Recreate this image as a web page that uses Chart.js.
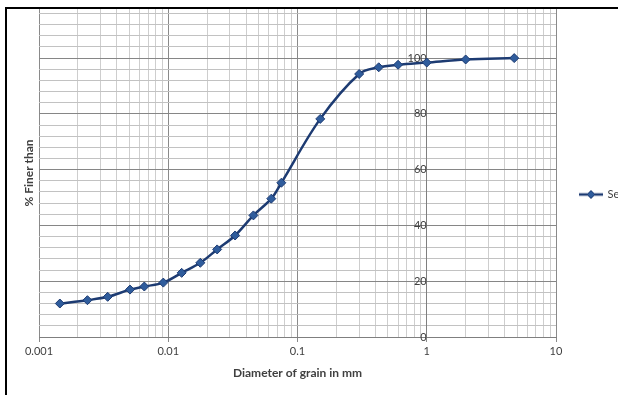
<!DOCTYPE html>
<html>
<head>
<meta charset="utf-8">
<script src="https://cdn.jsdelivr.net/npm/chart.js@4"></script>
<style>
  html, body { margin: 0; padding: 0; background: #fff; }
  #wrap { width: 618px; height: 395px; }
</style>
</head>
<body>
<div id="wrap"><canvas id="grading" width="618" height="395"></canvas></div>
<script>
// grain size distribution (sieve + hydrometer)
const diameters = [0.00145, 0.00237, 0.0034, 0.00506, 0.00653, 0.00916, 0.0127, 0.0177, 0.0239, 0.0329,
                   0.0456, 0.0627, 0.075, 0.15, 0.3, 0.425, 0.6, 1.0, 2.0, 4.75];
const percentFiner = [12.0, 13.2, 14.4, 17.0, 18.1, 19.5, 23.0, 26.6, 31.4, 36.4,
                      43.6, 49.6, 55.3, 78.2, 94.3, 96.7, 97.6, 98.4, 99.5, 100.0];
const xTickValues = [0.001, 0.01, 0.1, 1, 10];
const xTickLabels = ['0.001', '0.01', '0.1', '1', '10'];
const yTickValues = [0, 20, 40, 60, 80, 100];
const seriesName = 'Series1';

// grid positions: 1..9 in every decade, every 4 % up the side
const xGrid = [];
for (let i = 0; i < xTickValues.length - 1; i++) {
  for (let k = 1; k <= 9; k++) xGrid.push(Number((xTickValues[i] * k).toPrecision(6)));
}
xGrid.push(xTickValues[xTickValues.length - 1]);
const yGrid = [];
for (let v = 0; v <= 116; v += 4) yGrid.push(v);

const isDecade = v => Math.abs(Math.log10(v) - Math.round(Math.log10(v))) < 1e-6;
const xLabel = v => {
  const i = xTickValues.findIndex(t => Math.abs(t - v) / t < 1e-6);
  return i < 0 ? '' : xTickLabels[i];
};

const NAVY = '#1d3b72';
const MARK = '#2f5c9c';

// legend sample: short line with a diamond on it
const legendMark = document.createElement('canvas');
legendMark.width = 24; legendMark.height = 10;
(function () {
  const c = legendMark.getContext('2d');
  c.strokeStyle = NAVY; c.lineWidth = 2.5;
  c.beginPath(); c.moveTo(0, 5); c.lineTo(24, 5); c.stroke();
  c.fillStyle = MARK; c.strokeStyle = NAVY; c.lineWidth = 1;
  c.beginPath(); c.moveTo(12, 1); c.lineTo(16, 5); c.lineTo(12, 9); c.lineTo(8, 5); c.closePath();
  c.fill(); c.stroke();
})();

// black frame on the top and left edges
const frame = {
  id: 'frame',
  afterDraw(chart) {
    const c = chart.ctx;
    c.save();
    c.fillStyle = '#000';
    c.fillRect(5, 7, 2, 388);
    c.fillRect(5, 7, 613, 2);
    c.restore();
  }
};

Chart.defaults.font.family = 'Lato';
Chart.defaults.color = '#404040';

new Chart(document.getElementById('grading'), {
  type: 'line',
  data: {
    datasets: [{
      label: seriesName,
      data: diameters.map((d, i) => ({ x: d, y: percentFiner[i] })),
      borderColor: NAVY,
      borderWidth: 2.5,
      tension: 0.35,
      pointStyle: 'rectRot',
      pointRadius: 4.5,
      pointBackgroundColor: MARK,
      pointBorderColor: NAVY,
      pointBorderWidth: 1
    }]
  },
  options: {
    responsive: false,
    animation: false,
    layout: { padding: { top: 9, left: 0, right: 0, bottom: 0 } },
    plugins: {
      tooltip: { enabled: false },
      legend: {
        position: 'right',
        fullSize: false,
        maxWidth: 62,
        title: { display: true, text: ' ', font: { size: 10 }, padding: 15.5 },
        labels: {
          usePointStyle: true,
          pointStyleWidth: 22,
          padding: 24,
          font: { size: 11 },
          color: '#404040',
          generateLabels: () => [{ text: seriesName, pointStyle: legendMark, datasetIndex: 0, lineWidth: 0 }]
        }
      }
    },
    scales: {
      x: {
        type: 'logarithmic',
        min: 0.001,
        max: 10,
        afterBuildTicks: s => { s.ticks = xGrid.map(v => ({ value: v })); },
        afterFit: s => { s.height = 58; s.paddingLeft = 0; s.paddingRight = 0; },
        grid: {
          color: c => (c.tick && isDecade(c.tick.value)) ? '#8a8a8a' : '#cecece',
          tickColor: c => (c.tick && isDecade(c.tick.value)) ? '#8a8a8a' : 'rgba(0,0,0,0)',
          tickLength: 5
        },
        border: { color: '#7f7f7f' },
        ticks: {
          autoSkip: false,
          maxRotation: 0,
          padding: 3,
          font: { size: 11 },
          callback: v => xLabel(v)
        },
        title: {
          display: true,
          text: 'Diameter of grain in mm',
          font: { size: 12, weight: 'bold' },
          padding: { top: 0, bottom: 15 }
        }
      },
      y: {
        position: { x: 1 },
        min: 0,
        max: 117.6,
        afterBuildTicks: s => { s.ticks = yGrid.map(v => ({ value: v })); },
        afterFit: s => { s.paddingTop = 0; s.paddingBottom = 0; },
        grid: {
          color: c => (c.tick && c.tick.value % 20 === 0) ? '#868686' : '#c2c2c2',
          tickColor: c => (c.tick && yTickValues.includes(c.tick.value)) ? '#7f7f7f' : 'rgba(0,0,0,0)',
          tickLength: 6
        },
        border: { color: '#7f7f7f' },
        ticks: {
          autoSkip: false,
          padding: 6,
          font: { size: 11 },
          callback: v => yTickValues.includes(v) ? String(v) : ''
        }
      },
      yTitle: {
        type: 'linear',
        position: 'left',
        min: 0,
        max: 1,
        afterFit: s => { s.width = 39; s.paddingTop = 0; s.paddingBottom = 0; },
        grid: { display: false },
        border: { display: false },
        ticks: { display: false },
        title: {
          display: true,
          text: '% Finer than',
          font: { size: 12, weight: 'bold' },
          padding: { top: 22, bottom: 0 }
        }
      }
    }
  },
  plugins: [frame]
});
</script>
</body>
</html>
